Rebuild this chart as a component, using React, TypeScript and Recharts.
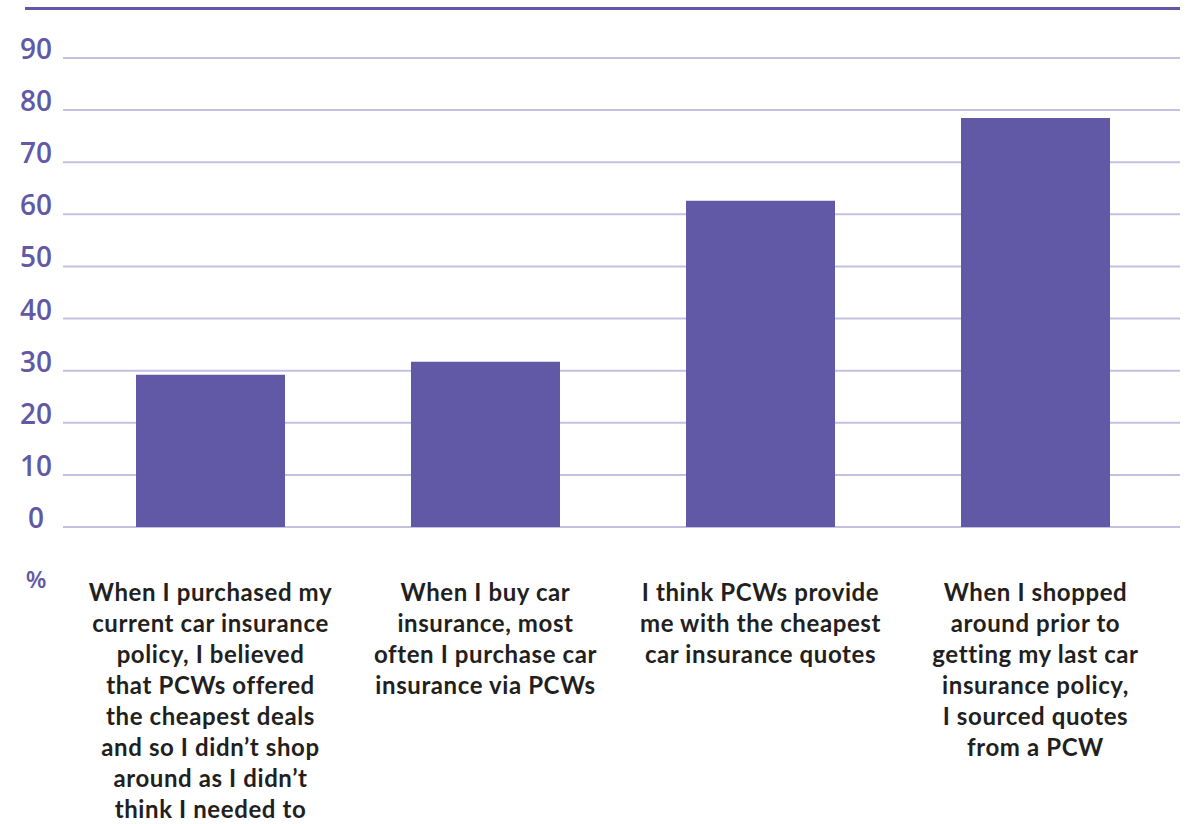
import { BarChart, Bar, XAxis, YAxis, CartesianGrid } from "recharts";

// category labels, broken into lines as in the source
const categories = [
  "When I purchased my\ncurrent car insurance\npolicy, I believed\nthat PCWs offered\nthe cheapest deals\nand so I didn\u2019t shop\naround as I didn\u2019t\nthink I needed to",
  "When I buy car\ninsurance, most\noften I purchase car\ninsurance via PCWs",
  "I think PCWs provide\nme with the cheapest\ncar insurance quotes",
  "When I shopped\naround prior to\ngetting my last car\ninsurance policy,\nI sourced quotes\nfrom a PCW",
];
const values = [29.2, 31.7, 62.6, 78.5];
const yTicks = [0, 10, 20, 30, 40, 50, 60, 70, 80, 90];

const data = categories.map((c, i) => ({ name: c, value: values[i] }));

const PURPLE = "#6159a6";

const XTick = (props: any) => {
  const { x, y, payload } = props;
  const lines = String(payload.value).split("\n");
  return (
    <text
      x={x}
      y={y + 74}
      textAnchor="middle"
      fill="#231f20"
      fontFamily="Lato, sans-serif"
      fontWeight={700}
      fontSize={24}
      letterSpacing={0.6}
    >
      {lines.map((l, i) => (
        <tspan key={i} x={x} dy={i === 0 ? 0 : 31}>
          {l}
        </tspan>
      ))}
    </text>
  );
};

const YTick = (props: any) => {
  const { x, y, payload } = props;
  return (
    <text
      x={x - 27}
      y={y + 1}
      textAnchor="middle"
      fill={PURPLE}
      fontFamily="'Open Sans', sans-serif"
      fontWeight={600}
      fontSize={28}
    >
      {payload.value}
    </text>
  );
};

export default function App() {
  return (
    <div style={{ position: "absolute", left: 0, top: 0, width: 1185, height: 824, background: "#fff" }}>
      <div style={{ position: "absolute", left: 25, top: 7, width: 1155, height: 3, background: PURPLE }} />
      <BarChart
        width={1185}
        height={824}
        data={data}
        margin={{ top: 58, right: 5, bottom: 7, left: 0 }}
        barCategoryGap={0}
      >
        <CartesianGrid vertical={false} stroke="#c5bfe0" strokeWidth={2} />
        <XAxis
          dataKey="name"
          axisLine={false}
          tickLine={false}
          tickSize={0}
          tickMargin={0}
          height={290}
          padding={{ left: 10, right: 7 }}
          interval={0}
          tick={<XTick />}
        />
        <YAxis
          domain={[0, 90]}
          ticks={yTicks}
          axisLine={false}
          tickLine={false}
          tickSize={0}
          tickMargin={0}
          width={63}
          interval={0}
          tick={<YTick />}
        />
        <Bar dataKey="value" fill={PURPLE} barSize={149} isAnimationActive={false} />
        <text
          x={36}
          y={588}
          textAnchor="middle"
          fill={PURPLE}
          fontFamily="'Open Sans', sans-serif"
          fontWeight={600}
          fontSize={24}
        >
          %
        </text>
      </BarChart>
    </div>
  );
}
